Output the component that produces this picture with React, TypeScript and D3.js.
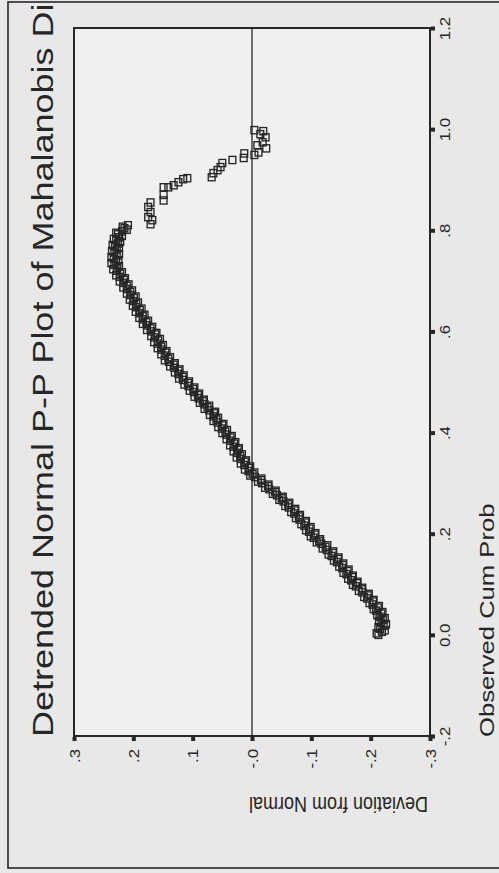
import React, { useEffect, useRef } from "react";
import * as d3 from "d3";

// [observed cum prob, deviation from normal] - the dense part of the curve
const bandPoints: [number, number][] = [
  [0.0, -0.213], [0.006, -0.219], [0.012, -0.216], [0.018, -0.222], [0.024, -0.218],
  [0.03, -0.221], [0.036, -0.215], [0.042, -0.218], [0.048, -0.209], [0.054, -0.212],
  [0.06, -0.203], [0.066, -0.204], [0.072, -0.194], [0.078, -0.195], [0.084, -0.186],
  [0.09, -0.185], [0.096, -0.175], [0.102, -0.177], [0.108, -0.167], [0.114, -0.169],
  [0.12, -0.159], [0.126, -0.161], [0.132, -0.152], [0.138, -0.153], [0.144, -0.143],
  [0.15, -0.145], [0.156, -0.134], [0.162, -0.136], [0.168, -0.126], [0.174, -0.124],
  [0.18, -0.117], [0.186, -0.113], [0.192, -0.104], [0.198, -0.106], [0.204, -0.096],
  [0.21, -0.097], [0.216, -0.088], [0.222, -0.09], [0.228, -0.08], [0.234, -0.079],
  [0.24, -0.071], [0.246, -0.072], [0.252, -0.062], [0.258, -0.061], [0.264, -0.053],
  [0.27, -0.05], [0.276, -0.042], [0.282, -0.039], [0.288, -0.029], [0.294, -0.027],
  [0.3, -0.017], [0.306, -0.015], [0.312, -0.005], [0.318, -0.001], [0.324, 0.006],
  [0.33, 0.005], [0.336, 0.013], [0.342, 0.012], [0.348, 0.019], [0.354, 0.02],
  [0.36, 0.025], [0.366, 0.024], [0.372, 0.031], [0.378, 0.03], [0.384, 0.037],
  [0.39, 0.036], [0.396, 0.043], [0.402, 0.045], [0.408, 0.051], [0.414, 0.05],
  [0.42, 0.058], [0.426, 0.06], [0.432, 0.065], [0.438, 0.064], [0.444, 0.072],
  [0.45, 0.075], [0.456, 0.08], [0.462, 0.083], [0.468, 0.09], [0.474, 0.091],
  [0.48, 0.098], [0.486, 0.099], [0.492, 0.107], [0.498, 0.108], [0.504, 0.116],
  [0.51, 0.117], [0.516, 0.124], [0.522, 0.124], [0.528, 0.131], [0.534, 0.132],
  [0.54, 0.14], [0.546, 0.141], [0.552, 0.147], [0.558, 0.146], [0.564, 0.153],
  [0.57, 0.153], [0.576, 0.159], [0.582, 0.158], [0.588, 0.164], [0.594, 0.163],
  [0.6, 0.17], [0.606, 0.171], [0.612, 0.177], [0.618, 0.178], [0.624, 0.184],
  [0.63, 0.184], [0.636, 0.19], [0.642, 0.189], [0.648, 0.195], [0.654, 0.195],
  [0.66, 0.2], [0.666, 0.199], [0.672, 0.205], [0.678, 0.205], [0.684, 0.21],
  [0.69, 0.211], [0.696, 0.217], [0.702, 0.216], [0.708, 0.223], [0.714, 0.222],
  [0.72, 0.228], [0.726, 0.227], [0.732, 0.232], [0.738, 0.229], [0.744, 0.233],
  [0.75, 0.228], [0.756, 0.232], [0.762, 0.228], [0.768, 0.231], [0.774, 0.226],
  [0.78, 0.229], [0.786, 0.224], [0.792, 0.226], [0.798, 0.219], [0.804, 0.215],
  [0.81, 0.209],
];

// the overlapping squares on both edges of the band
const bandEdgePoints: [number, number][] = [
  [0.003, -0.21], [0.009, -0.224], [0.015, -0.213], [0.021, -0.226], [0.027, -0.214],
  [0.033, -0.224], [0.039, -0.211], [0.045, -0.22], [0.051, -0.205], [0.057, -0.214],
  [0.063, -0.198], [0.069, -0.205], [0.075, -0.189], [0.081, -0.197], [0.087, -0.18],
  [0.093, -0.186], [0.099, -0.17], [0.105, -0.178], [0.111, -0.162], [0.117, -0.17],
  [0.123, -0.154], [0.129, -0.163], [0.135, -0.147], [0.141, -0.154], [0.147, -0.138],
  [0.153, -0.146], [0.159, -0.129], [0.165, -0.137], [0.171, -0.119], [0.177, -0.127],
  [0.183, -0.109], [0.189, -0.115], [0.195, -0.099], [0.201, -0.107], [0.207, -0.091],
  [0.213, -0.099], [0.219, -0.083], [0.225, -0.091], [0.231, -0.074], [0.237, -0.081],
  [0.243, -0.066], [0.249, -0.073], [0.255, -0.056], [0.261, -0.063], [0.267, -0.046],
  [0.273, -0.052], [0.279, -0.035], [0.285, -0.04], [0.291, -0.022], [0.297, -0.028],
  [0.303, -0.01], [0.309, -0.016], [0.315, 0.003], [0.321, -0.004], [0.327, 0.012],
  [0.333, 0.003], [0.339, 0.019], [0.345, 0.01], [0.351, 0.026], [0.357, 0.017],
  [0.363, 0.031], [0.369, 0.022], [0.375, 0.037], [0.381, 0.028], [0.387, 0.043],
  [0.393, 0.034], [0.399, 0.05], [0.405, 0.042], [0.411, 0.057], [0.417, 0.048],
  [0.423, 0.065], [0.429, 0.057], [0.435, 0.071], [0.441, 0.062], [0.447, 0.08],
  [0.453, 0.072], [0.459, 0.088], [0.465, 0.081], [0.471, 0.097], [0.477, 0.089],
  [0.483, 0.105], [0.489, 0.097], [0.495, 0.114], [0.501, 0.106], [0.507, 0.123],
  [0.513, 0.115], [0.519, 0.13], [0.525, 0.122], [0.531, 0.138], [0.537, 0.13],
  [0.543, 0.147], [0.549, 0.138], [0.555, 0.153], [0.561, 0.144], [0.567, 0.159],
  [0.573, 0.15], [0.579, 0.165], [0.585, 0.155], [0.591, 0.17], [0.597, 0.161],
  [0.603, 0.177], [0.609, 0.168], [0.615, 0.184], [0.621, 0.175], [0.627, 0.19],
  [0.633, 0.181], [0.639, 0.196], [0.645, 0.186], [0.651, 0.201], [0.657, 0.192],
  [0.663, 0.206], [0.669, 0.196], [0.675, 0.211], [0.681, 0.202], [0.687, 0.217],
  [0.693, 0.208], [0.699, 0.223], [0.705, 0.214], [0.711, 0.229], [0.717, 0.219],
  [0.723, 0.234], [0.729, 0.224], [0.735, 0.237], [0.741, 0.225], [0.747, 0.237],
  [0.753, 0.224], [0.759, 0.236], [0.765, 0.224], [0.771, 0.235], [0.777, 0.222],
  [0.783, 0.233], [0.789, 0.219], [0.795, 0.229], [0.801, 0.211], [0.807, 0.218],
];

// sparse upper tail, points read one by one
const tailPoints: [number, number][] = [
  [0.812, 0.171], [0.82, 0.168], [0.826, 0.175], [0.836, 0.171], [0.846, 0.175],
  [0.855, 0.171], [0.859, 0.149], [0.87, 0.149], [0.885, 0.149], [0.885, 0.141],
  [0.889, 0.132], [0.895, 0.124], [0.901, 0.116], [0.903, 0.109], [0.905, 0.068],
  [0.913, 0.065], [0.919, 0.058], [0.925, 0.053], [0.933, 0.05], [0.939, 0.033],
  [0.943, 0.014], [0.952, 0.013], [0.949, -0.004], [0.954, -0.011], [0.962, -0.024],
  [0.968, -0.009], [0.974, -0.018], [0.984, -0.023], [0.99, -0.014], [0.996, -0.019],
  [0.998, -0.004],
];

const devTicks = [0.3, 0.2, 0.1, 0, -0.1, -0.2, -0.3];
const devTickLabels = [".3", ".2", ".1", "-.0", "-.1", "-.2", "-.3"];
const probTicks = [-0.2, 0, 0.2, 0.4, 0.6, 0.8, 1.0, 1.2];
const probTickLabels = ["-.2", "0.0", ".2", ".4", ".6", ".8", "1.0", "1.2"];

const title = "Detrended Normal P-P Plot of Mahalanobis Distance";
const probTitle = "Observed Cum Prob";
const devTitle = "Deviation from Normal";

const W = 499;
const H = 873;
// the page is a scan of a chart turned a quarter turn, so the value axis runs across
const plot = { left: 74, right: 430, top: 28, bottom: 736 };
const ink = "#262626";
const font = "'Liberation Sans', Arial, sans-serif";

const App = () => {
  const ref = useRef<SVGSVGElement>(null);

  useEffect(() => {
    const svg = d3.select(ref.current);
    svg.selectAll("*").remove();

    const devScale = d3.scaleLinear().domain([0.3, -0.3]).range([plot.left, plot.right]);
    const probScale = d3.scaleLinear().domain([-0.2, 1.2]).range([plot.bottom, plot.top]);

    svg.append("rect").attr("width", W).attr("height", H).attr("fill", "#e8e8e8");

    svg
      .append("defs")
      .append("clipPath")
      .attr("id", "frame-clip")
      .append("rect")
      .attr("x", 9)
      .attr("y", 3)
      .attr("width", W)
      .attr("height", 864);

    // outer frame of the page
    svg
      .append("rect")
      .attr("x", 8)
      .attr("y", 2)
      .attr("width", 530)
      .attr("height", 866)
      .attr("fill", "none")
      .attr("stroke", ink)
      .attr("stroke-width", 1.6);

    // plot area
    svg
      .append("rect")
      .attr("x", plot.left)
      .attr("y", plot.top)
      .attr("width", plot.right - plot.left)
      .attr("height", plot.bottom - plot.top)
      .attr("fill", "#f0f0f0")
      .attr("stroke", ink)
      .attr("stroke-width", 2);

    // reference line at zero deviation
    svg
      .append("line")
      .attr("x1", devScale(0))
      .attr("x2", devScale(0))
      .attr("y1", plot.top)
      .attr("y2", plot.bottom)
      .attr("stroke", ink)
      .attr("stroke-width", 1.3);

    // deviation axis (along the bottom)
    const devAxis = svg
      .append("g")
      .attr("transform", `translate(0,${plot.bottom + 1})`)
      .call(
        d3
          .axisBottom(devScale)
          .tickValues(devTicks)
          .tickSize(4)
          .tickSizeOuter(0)
          .tickFormat((d, i) => devTickLabels[i])
      );
    devAxis.select(".domain").remove();
    devAxis.selectAll(".tick line").attr("stroke", ink).attr("stroke-width", 4);
    devAxis
      .selectAll(".tick text")
      .attr("y", null)
      .attr("dy", null)
      .attr("transform", "translate(5,12) rotate(-90) scale(1.2,1)")
      .attr("text-anchor", "end")
      .attr("fill", ink)
      .attr("font-size", 14)
      .attr("font-family", font);

    // cum prob axis (along the right)
    const probAxis = svg
      .append("g")
      .attr("transform", `translate(${plot.right + 1},0)`)
      .call(
        d3
          .axisRight(probScale)
          .tickValues(probTicks)
          .tickSize(4)
          .tickSizeOuter(0)
          .tickFormat((d, i) => probTickLabels[i])
      );
    probAxis.select(".domain").remove();
    probAxis.selectAll(".tick line").attr("stroke", ink).attr("stroke-width", 4);
    probAxis
      .selectAll(".tick text")
      .attr("x", null)
      .attr("dy", null)
      .attr("transform", "translate(19,0) rotate(-90) scale(1.2,1)")
      .attr("text-anchor", "middle")
      .attr("fill", ink)
      .attr("font-size", 14)
      .attr("font-family", font);

    // titles; the main one runs off the top of the scan
    svg
      .append("g")
      .attr("clip-path", "url(#frame-clip)")
      .append("text")
      .attr("transform", `translate(53,${plot.bottom + 1}) rotate(-90) scale(1.2,1)`)
      .attr("font-size", 30)
      .attr("font-family", font)
      .attr("fill", ink)
      .text(title);

    svg
      .append("text")
      .attr("transform", `translate(494,${plot.bottom + 1}) rotate(-90) scale(1.25,1)`)
      .attr("font-size", 20.5)
      .attr("font-family", font)
      .attr("fill", ink)
      .text(probTitle);

    svg
      .append("text")
      .attr("transform", `translate(${plot.right - 2},797) rotate(180) scale(1,1.2)`)
      .attr("font-size", 18)
      .attr("font-family", font)
      .attr("fill", ink)
      .text(devTitle);

    // points: open squares
    svg
      .append("g")
      .selectAll("rect")
      .data([...bandPoints, ...bandEdgePoints, ...tailPoints])
      .join("rect")
      .attr("x", (d) => devScale(d[1]) - 3.4)
      .attr("y", (d) => probScale(d[0]) - 3.6)
      .attr("width", 6.8)
      .attr("height", 7.2)
      .attr("fill", "none")
      .attr("stroke", ink)
      .attr("stroke-width", 1.35);
  }, []);

  return (
    <svg
      ref={ref}
      width={W}
      height={H}
      style={{ position: "absolute", left: 0, top: 0, display: "block" }}
    ></svg>
  );
};

export default App;
